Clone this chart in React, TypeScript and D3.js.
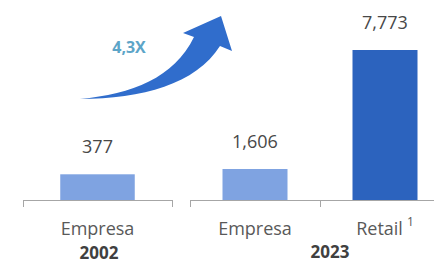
import * as d3 from "d3";

// two panels: 2002 (one bar) and 2023 (two bars), each on its own y scale
const cats2002 = ["Empresa"];
const vals2002 = [377];
const cats2023 = ["Empresa", "Retail"];
const vals2023 = [1606, 7773];
const colors2023 = ["#7FA3E1", "#2C63BE"];
const growthLabel = "4,3X";

const W = 434, H = 263;
const base = 200;
const font = "'Open Sans', sans-serif";

export default function App() {
  const xL = d3.scaleBand<string>().domain(cats2002).range([23, 172]);
  const xR = d3.scaleBand<string>().domain(cats2023).range([190, 450]);
  const yL = d3.scaleLinear().domain([0, 2200]).range([base, 50]);
  const yR = d3.scaleLinear().domain([0, 7773]).range([base, 50]);
  const fmt = d3.format(",");

  const bar = (x: d3.ScaleBand<string>, y: d3.ScaleLinear<number, number>,
               c: string, v: number, fill: string) => {
    const bw = x.bandwidth() * 0.5;
    const x0 = x(c)! + x.bandwidth() * 0.25;
    return (
      <g key={c + v}>
        <rect x={x0} y={y(v)} width={bw} height={base - y(v)} fill={fill} />
        <text x={x0 + bw / 2} y={y(v) - 21} textAnchor="middle" fontSize={18}
              fill="#484848" fontFamily={font}>{fmt(v)}</text>
      </g>
    );
  };

  const axis = (x: d3.ScaleBand<string>) => {
    const [a, b] = x.range();
    const ticks = [...x.domain().map((d) => x(d)!), b];
    return (
      <g stroke="#A6A6A6" strokeWidth={1}>
        <line x1={a} x2={b} y1={base + 0.5} y2={base + 0.5} />
        {ticks.map((t) => (
          <line key={t} x1={t + 0.5} x2={t + 0.5} y1={base} y2={base + 7} />
        ))}
      </g>
    );
  };

  const catLabel = (x: d3.ScaleBand<string>, c: string) => (
    <text key={c} x={x(c)! + x.bandwidth() / 2} y={235} textAnchor="middle"
          fontSize={18} fill="#595959" fontFamily={font}>
      {c}
      {c === "Retail" && <tspan dx={4} dy={-9} fontSize={12}>1</tspan>}
    </text>
  );

  return (
    <svg width={W} height={H} style={{ position: "absolute", left: 0, top: 0 }}>
      <rect width={W} height={H} fill="#fff" />
      {axis(xL)}
      {axis(xR)}
      {cats2002.map((c, i) => bar(xL, yL, c, vals2002[i], colors2023[0]))}
      {cats2023.map((c, i) => bar(xR, yR, c, vals2023[i], colors2023[i]))}
      {cats2002.map((c) => catLabel(xL, c))}
      {cats2023.map((c) => catLabel(xR, c))}
      <text x={99} y={259} textAnchor="middle" fontSize={17} fontWeight="bold"
            fill="#404040" fontFamily={font}>2002</text>
      <text x={330} y={258} textAnchor="middle" fontSize={17} fontWeight="bold"
            fill="#404040" fontFamily={font}>2023</text>
      <path d="M80,99 C132,94 174,78 194,37 L183,33 L221,16 L232,51 L220,46 C196,84 142,99 80,99 Z"
            fill="#306DCC" />
      <text x={129} y={53} textAnchor="middle" fontSize={16} fontWeight="bold"
            fill="#5DA5C8" fontFamily={font}>{growthLabel}</text>
    </svg>
  );
}
